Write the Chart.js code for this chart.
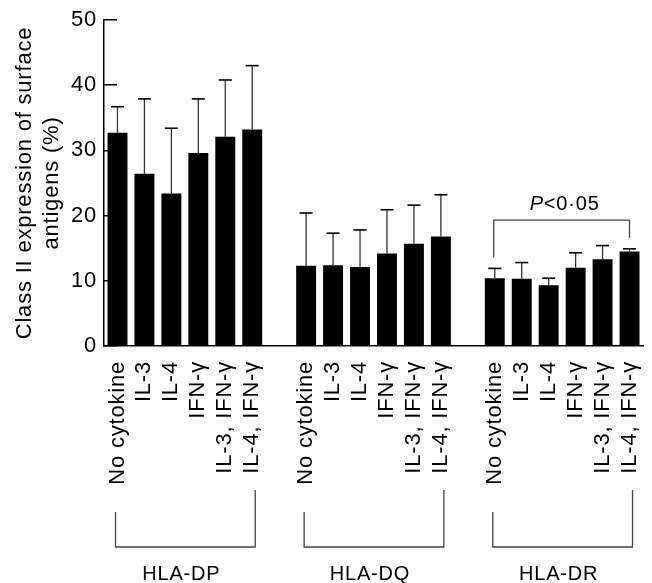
<!DOCTYPE html>
<html><head><meta charset="utf-8">
<style>html,body{margin:0;padding:0;background:#fff;}#wrap{width:652px;height:583px;}</style>
<script src="https://cdn.jsdelivr.net/npm/chart.js@4.4.1/dist/chart.umd.min.js"></script>
</head><body><div id="wrap"><canvas id="c" width="652" height="583"></canvas></div>
<script>
// ---- data ----
const categories = ['No cytokine', 'IL-3', 'IL-4', 'IFN-\u03b3', 'IL-3, IFN-\u03b3', 'IL-4, IFN-\u03b3'];
const groups = ['HLA-DP', 'HLA-DQ', 'HLA-DR'];
const dpMeans = [32.7, 26.4, 23.4, 29.6, 32.1, 33.2];
const dpUpper = [36.7, 37.9, 33.4, 37.9, 40.8, 43.0];
const dqMeans = [12.3, 12.4, 12.1, 14.2, 15.7, 16.8];
const dqUpper = [20.4, 17.3, 17.8, 20.9, 21.6, 23.2];
const drMeans = [10.4, 10.3, 9.3, 12.0, 13.3, 14.5];
const drUpper = [11.9, 12.8, 10.4, 14.3, 15.4, 14.9];
const yTicks = [0, 10, 20, 30, 40, 50];
const yTitle = ['Class II expression of surface', 'antigens (%)'];
const sigGroupIndex = 2;      // HLA-DR
const sigLevel = 19.3;        // height of the P bracket (axis units)
const sigText = ['P', '<0\u00b705'];

// ---- build table ----
const meansByGroup = [dpMeans, dqMeans, drMeans];
const upperByGroup = [dpUpper, dqUpper, drUpper];
const labels = [], values = [], uppers = [];
groups.forEach((g, gi) => {
  categories.forEach((c, ci) => {
    labels.push(c); values.push(meansByGroup[gi][ci]); uppers.push(upperByGroup[gi][ci]);
  });
  if (gi < groups.length - 1) { labels.push(''); values.push(null); uppers.push(null); }
});
const slot = categories.length + 1;

const FONT = "'Liberation Sans', Arial, Helvetica, sans-serif";
const SPACING = '0.8px';

const spacingPlugin = {
  id: 'spacing',
  beforeInit(c) { c.ctx.letterSpacing = SPACING; },
  beforeLayout(c) { c.ctx.letterSpacing = SPACING; },
  beforeDraw(c) { c.ctx.letterSpacing = SPACING; }
};

const errorBars = {
  id: 'errorBars',
  afterDatasetsDraw(chart) {
    const ctx = chart.ctx, y = chart.scales.y;
    const meta = chart.getDatasetMeta(0);
    ctx.save();
    meta.data.forEach((bar, i) => {
      const up = uppers[i];
      if (up == null || values[i] == null) return;
      const yt = y.getPixelForValue(up);
      ctx.beginPath();
      ctx.strokeStyle = '#333'; ctx.lineWidth = 1.3;
      ctx.moveTo(bar.x, bar.y); ctx.lineTo(bar.x, yt); ctx.stroke();
      ctx.beginPath();
      ctx.strokeStyle = '#000'; ctx.lineWidth = 1.6;
      ctx.moveTo(bar.x - 6.5, yt); ctx.lineTo(bar.x + 6.5, yt); ctx.stroke();
    });
    ctx.restore();
  }
};

const annotations = {
  id: 'annotations',
  afterDraw(chart) {
    const ctx = chart.ctx, x = chart.scales.x, y = chart.scales.y;
    const base = chart.chartArea.bottom;
    ctx.save();
    ctx.letterSpacing = SPACING;
    ctx.strokeStyle = '#444'; ctx.lineWidth = 1.3;
    ctx.fillStyle = '#000';
    // group brackets
    groups.forEach((g, gi) => {
      const i1 = gi * slot, i2 = gi * slot + categories.length - 1;
      const x1 = x.getPixelForValue(i1) - 2, x2 = x.getPixelForValue(i2) + 3;
      const yb = base + 201;
      ctx.beginPath();
      ctx.moveTo(x1, yb - 35); ctx.lineTo(x1, yb); ctx.lineTo(x2, yb); ctx.lineTo(x2, yb - 57);
      ctx.stroke();
      ctx.font = '20px ' + FONT;
      ctx.textAlign = 'center'; ctx.textBaseline = 'alphabetic';
      ctx.fillText(g, (x1 + x2) / 2 - 4, yb + 33);
    });
    // significance bracket
    const s1 = sigGroupIndex * slot, s2 = s1 + categories.length - 1;
    const sx1 = x.getPixelForValue(s1) - 1, sx2 = x.getPixelForValue(s2);
    const ly = y.getPixelForValue(sigLevel);
    ctx.beginPath();
    ctx.moveTo(sx1, y.getPixelForValue(uppers[s1]) - 11);
    ctx.lineTo(sx1, ly); ctx.lineTo(sx2, ly);
    ctx.lineTo(sx2, y.getPixelForValue(uppers[s2]) - 11);
    ctx.stroke();
    ctx.textAlign = 'left'; ctx.textBaseline = 'alphabetic';
    ctx.font = 'italic 20px ' + FONT;
    const w1 = ctx.measureText(sigText[0]).width;
    ctx.font = '20px ' + FONT;
    const w2 = ctx.measureText(sigText[1]).width;
    const cx = (sx1 + sx2) / 2 + 3;
    const tx = cx - (w1 + w2) / 2;
    ctx.font = 'italic 20px ' + FONT;
    ctx.fillText(sigText[0], tx, ly - 10);
    ctx.font = '20px ' + FONT;
    ctx.fillText(sigText[1], tx + w1, ly - 10);
    ctx.restore();
  }
};

new Chart(document.getElementById('c'), {
  type: 'bar',
  data: {
    labels: labels,
    datasets: [{
      data: values,
      backgroundColor: '#000',
      borderWidth: 0,
      barPercentage: 0.74,
      categoryPercentage: 1.0
    }]
  },
  options: {
    responsive: false,
    animation: false,
    layout: { padding: { top: 20, right: 9, left: 0, bottom: 0 } },
    plugins: { legend: { display: false }, tooltip: { enabled: false } },
    scales: {
      x: {
        type: 'category',
        offset: true,
        grid: { display: false, drawTicks: false },
        border: { display: true, color: '#000', width: 1.5 },
        ticks: {
          autoSkip: false, minRotation: 90, maxRotation: 90, padding: 15,
          color: '#000', font: { family: FONT, size: 22 }
        },
        afterFit(s) { s.height = 237; s.paddingLeft = 0; s.paddingRight = 0; }
      },
      y: {
        min: 0, max: 50,
        afterBuildTicks(s) { s.ticks = yTicks.map(v => ({ value: v })); },
        ticks: { padding: 20, color: '#000', font: { family: FONT, size: 22 } },
        grid: { drawOnChartArea: false, drawTicks: true, tickLength: -13, color: '#000', lineWidth: 1.5 },
        border: { display: true, color: '#000', width: 1.5 },
        title: {
          display: true, text: yTitle, color: '#000',
          font: { family: FONT, size: 22, lineHeight: 1.25 },
          padding: { top: 11, bottom: 0 }
        },
        afterFit(s) { s.width = 104; s.paddingTop = 0; s.paddingBottom = 0; }
      }
    }
  },
  plugins: [spacingPlugin, errorBars, annotations]
});
</script>
</body></html>
